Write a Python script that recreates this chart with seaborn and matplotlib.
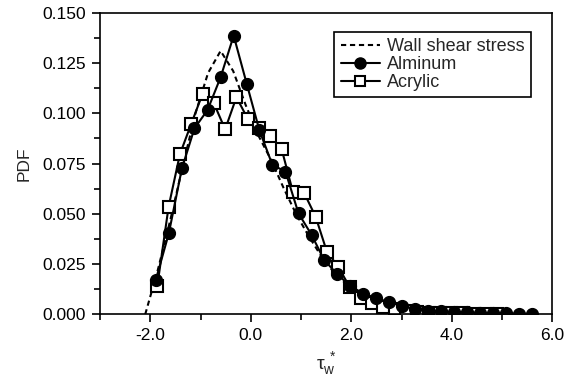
import numpy as np
import pandas as pd
import matplotlib
matplotlib.use("Agg")
import matplotlib.pyplot as plt
from matplotlib.ticker import MultipleLocator, FormatStrFormatter
from matplotlib.lines import Line2D
import seaborn as sns

# ---- data ----
wall_x = [-2.10, -1.85, -1.60, -1.35, -1.10, -0.85, -0.60, -0.35, -0.10, 0.15,
          0.40, 0.65, 0.90, 1.15, 1.40, 1.65, 1.90, 2.15, 2.40, 2.65,
          2.90, 3.15, 3.40, 3.65, 3.90, 4.15]
wall_y = [0.000, 0.022, 0.047, 0.074, 0.100, 0.120, 0.131, 0.121, 0.104, 0.089,
          0.077, 0.063, 0.050, 0.039, 0.029, 0.021, 0.015, 0.010, 0.007, 0.005,
          0.003, 0.002, 0.0015, 0.001, 0.0007, 0.0004]

alum_x = [-1.89, -1.63, -1.37, -1.12, -0.86, -0.60, -0.34, -0.08, 0.17, 0.43,
          0.69, 0.95, 1.21, 1.46, 1.72, 1.98, 2.24, 2.50, 2.75, 3.01,
          3.27, 3.53, 3.79, 4.05, 4.30, 4.56, 4.82, 5.08, 5.34, 5.60]
alum_y = [0.0171, 0.0403, 0.0726, 0.0925, 0.1016, 0.1179, 0.1386, 0.1146, 0.0917, 0.0743,
          0.0710, 0.0502, 0.0395, 0.0270, 0.0200, 0.0141, 0.0103, 0.0080, 0.0060, 0.0043,
          0.0025, 0.0018, 0.0014, 0.0011, 0.0009, 0.0007, 0.0005, 0.0004, 0.0003, 0.0002]

acry_x = [-1.860, -1.635, -1.410, -1.185, -0.960, -0.735, -0.510, -0.285, -0.060, 0.165,
          0.390, 0.615, 0.840, 1.065, 1.290, 1.515, 1.740, 1.965, 2.190, 2.415,
          2.640, 2.865, 3.090, 3.315, 3.540, 3.765, 3.990, 4.215, 4.440, 4.665, 4.890]
acry_y = [0.0141, 0.0535, 0.0796, 0.0947, 0.1096, 0.1050, 0.0920, 0.1080, 0.0972, 0.0925,
          0.0887, 0.0821, 0.0607, 0.0602, 0.0486, 0.0311, 0.0237, 0.0137, 0.0080, 0.0055,
          0.0038, 0.0025, 0.0015, 0.0010, 0.0008, 0.0006, 0.0005, 0.0004, 0.0003, 0.0002, 0.0001]

labels = ["Wall shear stress", "Alminum", "Acrylic"]
x_ticks = [-2.0, 0.0, 2.0, 4.0, 6.0]
y_ticks = [0.000, 0.025, 0.050, 0.075, 0.100, 0.125, 0.150]

# ---- style ----
sns.set_style("ticks")
plt.rcParams["font.family"] = ["Liberation Sans", "DejaVu Sans"]
plt.rcParams["mathtext.fontset"] = "custom"
plt.rcParams["mathtext.rm"] = "Liberation Sans"
plt.rcParams["mathtext.it"] = "Liberation Sans:italic"
plt.rcParams["font.size"] = 12.5

fig = plt.figure(figsize=(5.76, 3.78), dpi=100)
ax = fig.add_axes([100 / 576, 1 - 314.3 / 378, 452.3 / 576, 301.6 / 378])

wall_df = pd.DataFrame({"x": wall_x, "y": wall_y})
alum_df = pd.DataFrame({"x": alum_x, "y": alum_y})
acry_df = pd.DataFrame({"x": acry_x, "y": acry_y})

LW = 1.5
sns.lineplot(data=wall_df, x="x", y="y", ax=ax, sort=False, estimator=None,
             color="black", linewidth=LW, linestyle=(0, (2.5, 1.8)))
sns.lineplot(data=acry_df, x="x", y="y", ax=ax, sort=False, estimator=None,
             color="black", linewidth=LW, marker="s", markersize=8.5,
             markerfacecolor="white", markeredgecolor="black", markeredgewidth=1.5)
sns.lineplot(data=alum_df, x="x", y="y", ax=ax, sort=False, estimator=None,
             color="black", linewidth=LW, marker="o", markersize=8.5,
             markerfacecolor="black", markeredgecolor="black", markeredgewidth=1.0)

ax.set_xlim(-3.0, 6.0)
ax.set_ylim(0.0, 0.150)
ax.set_xticks(x_ticks)
ax.set_yticks(y_ticks)
ax.xaxis.set_major_formatter(FormatStrFormatter("%.1f"))
ax.yaxis.set_major_formatter(FormatStrFormatter("%.3f"))
ax.xaxis.set_minor_locator(MultipleLocator(1.0))
ax.yaxis.set_minor_locator(MultipleLocator(0.0125))
ax.tick_params(which="major", direction="out", length=6, width=1.2, colors="black",
               labelsize=12.5, pad=4)
ax.tick_params(which="minor", direction="out", length=4, width=1.2, colors="black")
for s in ax.spines.values():
    s.set_visible(True)
    s.set_color("black")
    s.set_linewidth(1.2)

ax.set_xlabel(r"$\mathrm{\tau}_{\mathrm{w}}^{\ *}$", fontsize=14, labelpad=5)
ax.set_ylabel("PDF", fontsize=12.5, labelpad=8)

handles = [
    Line2D([], [], color="black", linewidth=LW, linestyle=(0, (2.5, 1.8))),
    Line2D([], [], color="black", linewidth=LW, marker="o", markersize=8,
           markerfacecolor="black", markeredgecolor="black"),
    Line2D([], [], color="black", linewidth=LW, marker="s", markersize=7,
           markerfacecolor="white", markeredgecolor="black", markeredgewidth=1.5),
]
leg = ax.legend(handles, labels, loc="upper right", bbox_to_anchor=(0.952, 0.937),
                borderaxespad=0, frameon=True, fancybox=False, framealpha=1,
                edgecolor="black", handlelength=2.2, handletextpad=0.35,
                labelspacing=0.05, borderpad=0.35, fontsize=13)
leg.get_frame().set_linewidth(1.2)

fig.savefig("out.png", dpi=100)
